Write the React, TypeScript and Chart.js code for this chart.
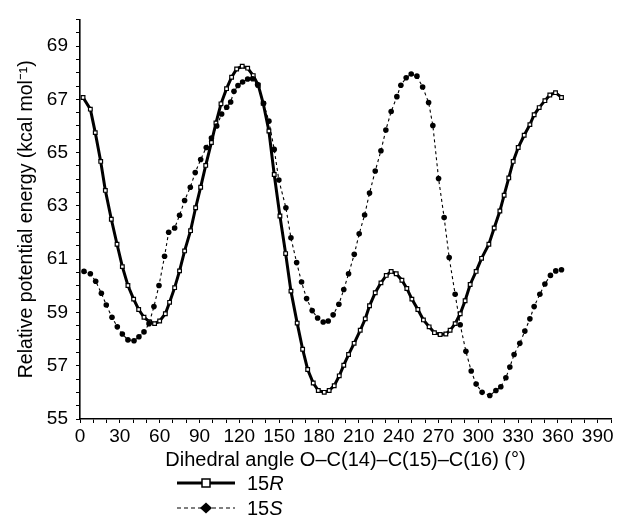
import React, { useEffect, useRef } from "react";
import { Chart, registerables } from "chart.js";

Chart.register(...registerables);

// 15R series (dihedral angle in degrees, relative energy in kcal/mol)
const anglesR = [
  2.3, 7.8, 11.5, 15.6, 19.1, 23.6, 27.9, 31.9, 36.1, 40.4,
  44.2, 48.2, 52.5, 56.2, 60.0, 64.3, 67.5, 71.3, 75.0, 78.8,
  83.3, 87.1, 90.9, 94.7, 99.0, 102.4, 106.2, 110.4, 114.2, 118.0,
  122.2, 126.3, 130.5, 134.3, 138.0, 142.3, 146.3, 150.6, 154.9, 158.9,
  163.6, 167.7, 171.5, 175.7, 179.5, 184.0, 187.7, 191.5, 195.3, 198.7,
  202.3, 206.5, 211.1, 214.9, 218.1, 222.4, 226.7, 230.7, 234.4, 238.2,
  242.5, 246.2, 250.0, 254.5, 258.7, 263.0, 267.0, 271.3, 275.6, 278.8,
  282.6, 286.4, 290.1, 293.9, 298.4, 302.5, 308.0, 312.0, 316.3, 319.5,
  323.0, 326.3, 330.1, 334.6, 338.9, 342.1, 345.9, 350.2, 353.9, 358.2,
  362.7,
];
const energyR = [
  67.07, 66.63, 65.75, 64.67, 63.58, 62.5, 61.56, 60.72, 60.01, 59.5,
  59.11, 58.82, 58.64, 58.58, 58.68, 58.95, 59.38, 59.93, 60.56, 61.31,
  62.07, 62.93, 63.7, 64.52, 65.38, 66.11, 66.83, 67.4, 67.83, 68.14,
  68.24, 68.17, 67.89, 67.53, 66.85, 65.81, 64.18, 62.62, 61.21, 59.8,
  58.6, 57.62, 56.86, 56.35, 56.07, 56.0, 56.07, 56.25, 56.62, 57.02,
  57.42, 57.84, 58.33, 58.76, 59.25, 59.74, 60.11, 60.39, 60.54, 60.45,
  60.21, 59.9, 59.5, 59.11, 58.72, 58.46, 58.24, 58.17, 58.19, 58.33,
  58.58, 58.95, 59.44, 60.05, 60.54, 61.03, 61.56, 62.17, 62.81, 63.4,
  64.05, 64.67, 65.19, 65.65, 66.05, 66.42, 66.69, 66.95, 67.16, 67.25,
  67.07,
];

// 15S series
const anglesS = [
  3.0, 7.8, 11.8, 16.1, 19.8, 24.1, 28.1, 31.9, 36.1, 40.7,
  44.4, 48.2, 52.0, 55.7, 59.5, 63.7, 66.8, 71.3, 75.0, 78.8,
  83.1, 86.8, 90.9, 95.1, 99.0, 103.0, 106.7, 110.5, 113.5, 116.0,
  119.0, 122.5, 126.3, 130.0, 133.8, 138.3, 142.3, 146.3, 149.8, 155.1,
  158.9, 163.2, 166.9, 170.7, 174.9, 179.0, 183.2, 187.0, 190.7, 195.0,
  198.7, 202.3, 206.6, 210.3, 214.4, 218.1, 222.4, 226.7, 230.4, 234.4,
  238.7, 241.7, 245.7, 249.5, 253.8, 258.1, 262.6, 265.8, 270.1, 274.3,
  278.1, 282.6, 286.4, 290.7, 294.7, 298.4, 302.9, 308.7, 313.3, 317.0,
  320.8, 323.8, 327.0, 331.3, 335.1, 338.9, 342.1, 346.4, 350.2, 354.4,
  358.4, 362.7,
];
const energyS = [
  60.54, 60.45, 60.17, 59.72, 59.28, 58.82, 58.46, 58.19, 57.97, 57.94,
  58.09, 58.27, 58.58, 59.22, 60.01, 61.11, 62.01, 62.17, 62.65, 63.2,
  63.7, 64.25, 64.74, 65.19, 65.55, 66.0, 66.45, 66.7, 66.9, 67.3,
  67.52, 67.65, 67.76, 67.77, 67.55, 66.85, 66.18, 65.12, 63.97, 62.93,
  61.8, 60.87, 60.14, 59.52, 59.07, 58.79, 58.64, 58.68, 58.91, 59.31,
  59.86, 60.45, 61.18, 61.95, 62.66, 63.48, 64.31, 65.07, 65.85, 66.54,
  67.1, 67.53, 67.81, 67.95, 67.87, 67.46, 66.88, 66.02, 64.03, 62.56,
  61.06, 59.68, 58.54, 57.54, 56.8, 56.31, 56.0, 55.88, 56.07, 56.21,
  56.55, 56.95, 57.42, 57.84, 58.3, 58.76, 59.22, 59.68, 60.07, 60.39,
  60.56, 60.6,
];

const xLabelTicks = [0, 30, 60, 90, 120, 150, 180, 210, 240, 270, 300, 330, 360, 390];
const yLabelTicks = [55, 57, 59, 61, 63, 65, 67, 69];

const xTitle = "Dihedral angle O\u2013C(14)\u2013C(15)\u2013C(16) (\u00b0)";
const yTitle = "Relative potential energy (kcal mol\u207b\u00b9)";

const FONT = "'Liberation Sans', Arial, Helvetica, sans-serif";

export default function App() {
  const ref = useRef<HTMLCanvasElement | null>(null);

  useEffect(() => {
    if (!ref.current) return;
    const dataR = anglesR.map((a, i) => ({ x: a, y: energyR[i] }));
    const dataS = anglesS.map((a, i) => ({ x: a, y: energyS[i] }));
    const chart = new Chart(ref.current, {
      type: "line",
      data: {
        datasets: [
          {
            label: "15S",
            data: dataS,
            borderColor: "#000",
            borderWidth: 1.1,
            borderDash: [3, 3],
            pointStyle: "circle",
            pointRadius: 2.8,
            pointBackgroundColor: "#000",
            pointBorderColor: "#000",
            pointBorderWidth: 0,
            tension: 0,
          },
          {
            label: "15R",
            data: dataR,
            borderColor: "#000",
            borderWidth: 3,
            pointStyle: "rect",
            pointRadius: 2.6,
            pointBackgroundColor: "#fff",
            pointBorderColor: "#000",
            pointBorderWidth: 1.2,
            tension: 0,
          },
        ],
      },
      options: {
        responsive: false,
        animation: false,
        layout: { padding: { top: 11, right: 8, bottom: 50, left: 0 } },
        plugins: { legend: { display: false }, tooltip: { enabled: false } },
        scales: {
          x: {
            type: "linear",
            min: 0,
            max: 400,
            afterFit: (s: any) => {
              s.height = 55;
            },
            ticks: {
              stepSize: 10,
              autoSkip: false,
              maxRotation: 0,
              padding: 2,
              color: "#000",
              font: { family: FONT, size: 19 },
              callback: (v: any) => (xLabelTicks.includes(Number(v)) ? String(v) : ""),
            },
            grid: {
              display: true,
              drawOnChartArea: false,
              drawTicks: true,
              tickLength: 4,
              tickColor: "#000",
              tickWidth: 1,
            },
            border: { display: true, color: "#000", width: 1.6 },
            title: {
              display: true,
              text: xTitle,
              color: "#000",
              font: { family: FONT, size: 20 },
              padding: { top: 0, bottom: 2 },
            },
          },
          y: {
            type: "linear",
            min: 55,
            max: 70,
            afterFit: (s: any) => {
              s.width = 80;
            },
            ticks: {
              stepSize: 0.5,
              autoSkip: false,
              padding: 8,
              color: "#000",
              font: { family: FONT, size: 19 },
              callback: (v: any) => (yLabelTicks.includes(Number(v)) ? String(v) : ""),
            },
            grid: {
              display: true,
              drawOnChartArea: false,
              drawTicks: true,
              tickLength: 4,
              tickColor: "#000",
              tickWidth: 1,
            },
            border: { display: true, color: "#000", width: 1.6 },
            title: {
              display: true,
              text: yTitle,
              color: "#000",
              font: { family: FONT, size: 19.5 },
              padding: { top: 15, bottom: 0 },
            },
          },
        },
      },
    });
    return () => chart.destroy();
  }, []);

  const textStyle: React.CSSProperties = {
    position: "absolute",
    left: 247,
    fontFamily: FONT,
    fontSize: 20,
    lineHeight: "22px",
    color: "#000",
  };

  return (
    <div style={{ position: "absolute", left: 0, top: 0, width: 619, height: 524, background: "#fff" }}>
      <canvas ref={ref} width={619} height={524} style={{ display: "block", width: 619, height: 524 }} />
      <svg style={{ position: "absolute", left: 177, top: 477 }} width={60} height={12}>
        <line x1={0} y1={6} x2={58} y2={6} stroke="#000" strokeWidth={3} />
        <rect x={25} y={2} width={8} height={8} fill="#fff" stroke="#000" strokeWidth={1.5} />
      </svg>
      <div style={{ ...textStyle, top: 472 }}>
        15<i>R</i>
      </div>
      <svg style={{ position: "absolute", left: 177, top: 502 }} width={60} height={12}>
        <line x1={0} y1={6} x2={58} y2={6} stroke="#000" strokeWidth={1.2} strokeDasharray="4 3" />
        <polygon points="29,0.5 35,6 29,11.5 23,6" fill="#000" />
      </svg>
      <div style={{ ...textStyle, top: 497 }}>
        15<i>S</i>
      </div>
    </div>
  );
}
